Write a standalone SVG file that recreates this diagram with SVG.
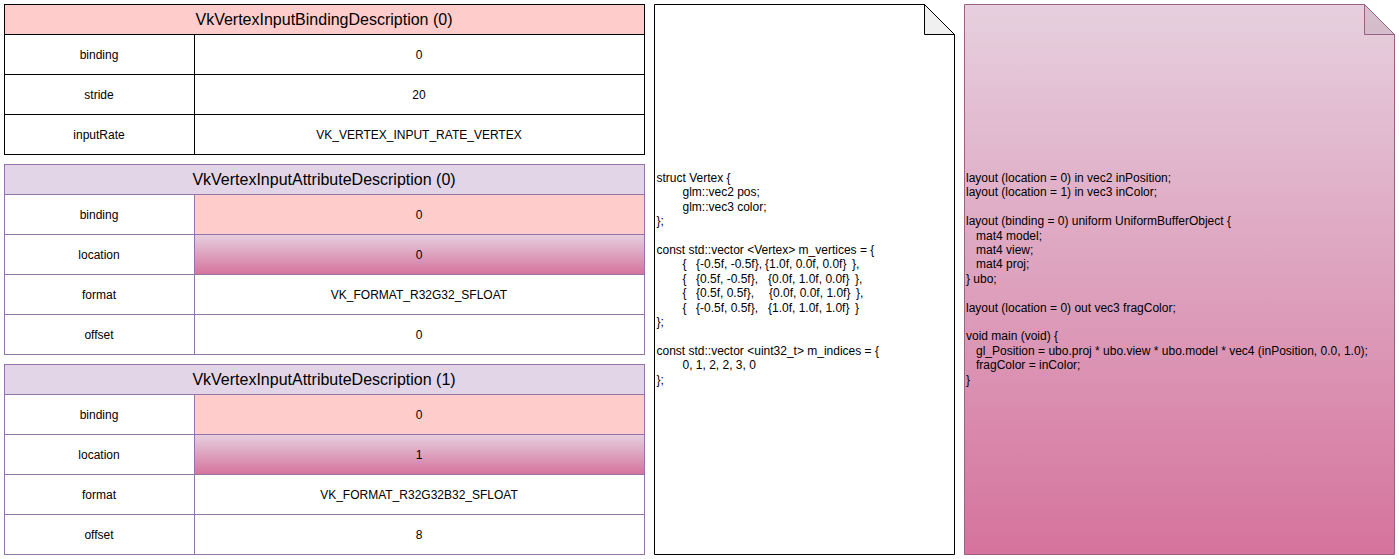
<svg xmlns="http://www.w3.org/2000/svg" width="1399" height="559" viewBox="0 0 1399 559">
<defs>
<linearGradient id="pinkGrad" x1="0" y1="0" x2="0" y2="1">
<stop offset="0" stop-color="#e6d0de"/>
<stop offset="1" stop-color="#d5739d"/>
</linearGradient>
<style>
text{font-family:"Liberation Sans",Arial,Helvetica,sans-serif;font-size:12px;fill:#000}
.c{text-anchor:middle}
.h{font-size:16px}
.bk{stroke:#000;stroke-width:1;fill:none}
.pu{stroke:#9673a6;stroke-width:1;fill:none}
</style>
</defs>
<rect x="0" y="0" width="1399" height="559" fill="#ffffff"/>

<g id="binding-description">
<rect x="4.5" y="4.5" width="640" height="150" fill="#ffffff"/>
<rect x="4.5" y="4.5" width="640" height="30" fill="#ffcccc"/>
<path class="bk" d="M4.5,34.5H644.5M4.5,74.5H644.5M4.5,114.5H644.5M194.5,34.5V154.5"/>
<rect class="bk" x="4.5" y="4.5" width="640" height="150"/>
<text class="c h" x="324" y="25">VkVertexInputBindingDescription (0)</text>
<text class="c" x="99" y="58.5">binding</text>
<text class="c" x="419" y="58.5">0</text>
<text class="c" x="99" y="98.5">stride</text>
<text class="c" x="419" y="98.5">20</text>
<text class="c" x="99" y="138.5">inputRate</text>
<text class="c" x="419" y="138.5">VK_VERTEX_INPUT_RATE_VERTEX</text>
</g>

<g id="attribute-description-0">
<rect x="4.5" y="164.5" width="640" height="190" fill="#ffffff"/>
<rect x="4.5" y="164.5" width="640" height="30" fill="#e1d5e7"/>
<rect x="194.5" y="194.5" width="450" height="40" fill="#ffcccc"/>
<rect x="194.5" y="234.5" width="450" height="40" fill="url(#pinkGrad)"/>
<path class="pu" d="M4.5,194.5H644.5M4.5,234.5H644.5M4.5,274.5H644.5M4.5,314.5H644.5M194.5,194.5V354.5"/>
<rect class="pu" x="4.5" y="164.5" width="640" height="190"/>
<text class="c h" x="324" y="185">VkVertexInputAttributeDescription (0)</text>
<text class="c" x="99" y="218.5">binding</text>
<text class="c" x="419" y="218.5">0</text>
<text class="c" x="99" y="258.5">location</text>
<text class="c" x="419" y="258.5">0</text>
<text class="c" x="99" y="298.5">format</text>
<text class="c" x="419" y="298.5">VK_FORMAT_R32G32_SFLOAT</text>
<text class="c" x="99" y="338.5">offset</text>
<text class="c" x="419" y="338.5">0</text>
</g>

<g id="attribute-description-1">
<rect x="4.5" y="364.5" width="640" height="190" fill="#ffffff"/>
<rect x="4.5" y="364.5" width="640" height="30" fill="#e1d5e7"/>
<rect x="194.5" y="394.5" width="450" height="40" fill="#ffcccc"/>
<rect x="194.5" y="434.5" width="450" height="40" fill="url(#pinkGrad)"/>
<path class="pu" d="M4.5,394.5H644.5M4.5,434.5H644.5M4.5,474.5H644.5M4.5,514.5H644.5M194.5,394.5V554.5"/>
<rect class="pu" x="4.5" y="364.5" width="640" height="190"/>
<text class="c h" x="324" y="385">VkVertexInputAttributeDescription (1)</text>
<text class="c" x="99" y="418.5">binding</text>
<text class="c" x="419" y="418.5">0</text>
<text class="c" x="99" y="458.5">location</text>
<text class="c" x="419" y="458.5">1</text>
<text class="c" x="99" y="498.5">format</text>
<text class="c" x="419" y="498.5">VK_FORMAT_R32G32B32_SFLOAT</text>
<text class="c" x="99" y="538.5">offset</text>
<text class="c" x="419" y="538.5">8</text>
</g>

<g id="vertex-code-note">
<path d="M654.5,4.5H924.5L954.5,34.5V554.5H654.5Z" fill="#ffffff" stroke="#000" stroke-width="1"/>
<path d="M924.5,4.5V34.5H954.5Z" fill="#f0f0f0" stroke="#000" stroke-width="1" stroke-linejoin="round"/>
<text x="656.5" y="182">struct Vertex {</text>
<text x="682.5" y="196.4">glm::vec2 pos;</text>
<text x="682.5" y="210.8">glm::vec3 color;</text>
<text x="656.5" y="225.2">};</text>
<text x="656.5" y="254">const std::vector &lt;Vertex&gt; m_vertices = {</text>
<text y="268.4"><tspan x="682.5">{</tspan><tspan x="696">{-0.5f, -0.5f},</tspan><tspan x="765">{1.0f, 0.0f, 0.0f}</tspan><tspan x="852">},</tspan></text>
<text y="282.8"><tspan x="682.5">{</tspan><tspan x="696">{0.5f, -0.5f},</tspan><tspan x="768">{0.0f, 1.0f, 0.0f}</tspan><tspan x="855">},</tspan></text>
<text y="297.2"><tspan x="682.5">{</tspan><tspan x="696">{0.5f, 0.5f},</tspan><tspan x="769">{0.0f, 0.0f, 1.0f}</tspan><tspan x="856">},</tspan></text>
<text y="311.6"><tspan x="682.5">{</tspan><tspan x="696">{-0.5f, 0.5f},</tspan><tspan x="768">{1.0f, 1.0f, 1.0f}</tspan><tspan x="855">}</tspan></text>
<text x="656.5" y="326">};</text>
<text x="656.5" y="354.8">const std::vector &lt;uint32_t&gt; m_indices = {</text>
<text x="682.5" y="369.2">0, 1, 2, 2, 3, 0</text>
<text x="656.5" y="383.6">};</text>
</g>

<g id="shader-code-note">
<path d="M964.5,4.5H1364.5L1394.5,34.5V554.5H964.5Z" fill="url(#pinkGrad)" stroke="#996185" stroke-width="1"/>
<path d="M1364.5,4.5V34.5H1394.5Z" fill="#000000" fill-opacity="0.07" stroke="#996185" stroke-width="1" stroke-linejoin="round"/>
<text x="966" y="182">layout (location = 0) in vec2 inPosition;</text>
<text x="966" y="196.4">layout (location = 1) in vec3 inColor;</text>
<text x="966" y="225.2">layout (binding = 0) uniform UniformBufferObject {</text>
<text x="976" y="239.6">mat4 model;</text>
<text x="976" y="254">mat4 view;</text>
<text x="976" y="268.4">mat4 proj;</text>
<text x="966" y="282.8">} ubo;</text>
<text x="966" y="311.6">layout (location = 0) out vec3 fragColor;</text>
<text x="966" y="340.4">void main (void) {</text>
<text x="976" y="354.8">gl_Position = ubo.proj * ubo.view * ubo.model * vec4 (inPosition, 0.0, 1.0);</text>
<text x="976" y="369.2">fragColor = inColor;</text>
<text x="966" y="383.6">}</text>
</g>

<g id="connectors"></g>
</svg>
